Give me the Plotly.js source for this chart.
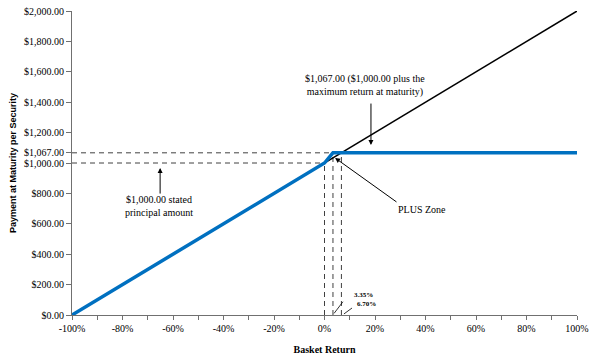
<!DOCTYPE html>
<html><head><meta charset="utf-8">
<script src="https://cdn.plot.ly/plotly-3.0.1.min.js"></script>
<style>html,body{margin:0;padding:0;background:#fff}#chart{width:596px;height:357px}</style>
</head><body><div id="chart"></div>
<script>
// Data
const basketReturn = [-100, 0, 3.35, 100];
const paymentAtMaturity = [0, 1000, 1067, 1067];
const refReturn = [-100, 100];
const refPayment = [0, 2000];
const principal = 1000;
const capPayment = 1067;
const capReturn = 3.35;
const plusZoneEnd = 6.70;
const xTickVals = [-100, -80, -60, -40, -20, 0, 20, 40, 60, 80, 100];
const xTickText = ['-100%', '-80%', '-60%', '-40%', '-20%', '0%', '20%', '40%', '60%', '80%', '100%'];
const xMinorVals = [-90, -70, -50, -30, -10, 10, 30, 50, 70, 90];
const yTickVals = [0, 200, 400, 600, 800, 1000, 1067, 1200, 1400, 1600, 1800, 2000];
const yTickText = ['$0.00', '$200.00', '$400.00', '$600.00', '$800.00', '$1,000.00', '$1,067.00', '$1,200.00', '$1,400.00', '$1,600.00', '$1,800.00', '$2,000.00'];

const dashStyle = {color: '#404040', width: 1, dash: '5px,4px'};
const traces = [
  {x: [-100, capReturn], y: [capPayment, capPayment], mode: 'lines', line: dashStyle, hoverinfo: 'skip'},
  {x: [-100, 0], y: [principal, principal], mode: 'lines', line: dashStyle, hoverinfo: 'skip'},
  {x: [0, 0], y: [0, principal], mode: 'lines', line: dashStyle, hoverinfo: 'skip'},
  {x: [capReturn, capReturn], y: [0, capPayment], mode: 'lines', line: dashStyle, hoverinfo: 'skip'},
  {x: [plusZoneEnd, plusZoneEnd], y: [0, capPayment], mode: 'lines', line: dashStyle, hoverinfo: 'skip'},
  {x: refReturn, y: refPayment, mode: 'lines', line: {color: '#000000', width: 1.5}},
  {x: basketReturn, y: paymentAtMaturity, mode: 'lines', line: {color: '#0070C0', width: 3.5}}
];

const serif = 'Liberation Serif, Times New Roman, serif';
const layout = {
  width: 596, height: 357,
  margin: {l: 72, r: 19, t: 11, b: 42},
  showlegend: false,
  paper_bgcolor: '#fff', plot_bgcolor: '#fff',
  font: {family: serif, size: 10, color: '#000'},
  xaxis: {
    range: [-100, 100], tickvals: xTickVals, ticktext: xTickText,
    showgrid: false, zeroline: false, showline: true, linecolor: '#707070', linewidth: 1,
    ticks: 'outside', ticklen: 4, tickcolor: '#707070',
    minor: {tickvals: xMinorVals, ticks: 'outside', ticklen: 4, tickcolor: '#707070'},
    tickfont: {family: serif, size: 10},
    title: {text: '<b>Basket Return</b>', font: {family: serif, size: 10}, standoff: 12}
  },
  yaxis: {
    range: [0, 2000], tickvals: yTickVals, ticktext: yTickText,
    showgrid: false, zeroline: false, showline: true, linecolor: '#707070', linewidth: 1,
    ticks: 'outside', ticklen: 5, tickcolor: '#707070',
    tickfont: {family: serif, size: 10},
    title: {text: '<b>Payment at Maturity per Security</b>', font: {family: 'Liberation Sans, Arial, sans-serif', size: 9}, standoff: 5}
  },
  shapes: [
    {type: 'line', xref: 'x', yref: 'y', x0: 3.8, y0: 11, x1: 7.3, y1: 87, line: {color: '#000', width: 0.8}},
    {type: 'line', xref: 'x', yref: 'y', x0: 7.7, y0: 7, x1: 10.9, y1: 46, line: {color: '#000', width: 0.8}}
  ],
  annotations: [
    {x: 16.0, y: 1513, xref: 'x', yref: 'y', text: '$1,067.00 ($1,000.00 plus the<br>maximum return at maturity)', showarrow: false, font: {family: serif, size: 10}},
    {x: 18.4, y: 1118, ax: 18.4, ay: 1401, xref: 'x', yref: 'y', axref: 'x', ayref: 'y', text: '', showarrow: true, arrowhead: 2, arrowsize: 1, arrowwidth: 1, arrowcolor: '#000'},
    {x: -65.5, y: 717, xref: 'x', yref: 'y', text: '$1,000.00 stated<br>principal amount', showarrow: false, font: {family: serif, size: 10}},
    {x: -65.1, y: 967, ax: -65.1, ay: 789, xref: 'x', yref: 'y', axref: 'x', ayref: 'y', text: '', showarrow: true, arrowhead: 2, arrowsize: 1, arrowwidth: 1, arrowcolor: '#000'},
    {x: 38.6, y: 691, xref: 'x', yref: 'y', text: 'PLUS Zone', showarrow: false, font: {family: serif, size: 10}},
    {x: 4.2, y: 1033, ax: 29.1, ay: 737, xref: 'x', yref: 'y', axref: 'x', ayref: 'y', text: '', showarrow: true, arrowhead: 2, arrowsize: 1, arrowwidth: 1, arrowcolor: '#000'},
    {x: 10.9, y: 132, xref: 'x', yref: 'y', xanchor: 'left', text: '<b>3.35%</b>', showarrow: false, font: {family: serif, size: 7}},
    {x: 12.1, y: 72, xref: 'x', yref: 'y', xanchor: 'left', text: '<b>6.70%</b>', showarrow: false, font: {family: serif, size: 7}}
  ]
};
Plotly.newPlot('chart', traces, layout, {staticPlot: true, displayModeBar: false});
</script></body></html>
